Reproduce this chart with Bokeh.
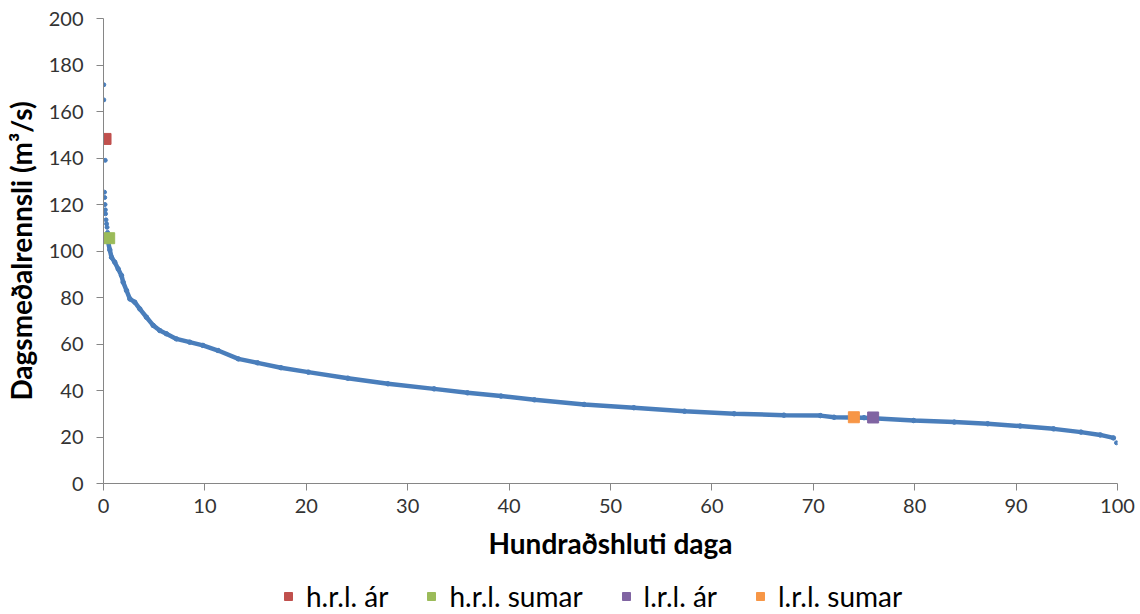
from bokeh.plotting import figure
from bokeh.layouts import column
from bokeh.models import Range1d, FixedTicker, Legend, LegendItem
from bokeh.embed import file_html
from bokeh.resources import INLINE

# sparse top points (percent of days, daily mean flow)
top_pct = [0.03, 0.03, 0.17, 0.10, 0.12, 0.15, 0.18, 0.20, 0.25, 0.30, 0.35, 0.40]
top_flow = [171.5, 165.0, 139.0, 125.3, 123.0, 120.0, 117.7, 116.0, 113.4, 111.7, 110.2, 108.0]

# dense part of the duration curve
curve_pct = [0.45, 0.62, 0.79, 1.11, 1.45, 1.77, 1.94, 2.27, 2.6, 3.08, 3.58, 4.24,
             4.9, 5.55, 6.2, 7.19, 8.5, 9.8, 11.3, 13.3, 15.2, 17.5, 20.2, 24.1,
             28.05, 32.6, 35.9, 39.2, 42.5, 47.4, 52.3, 57.3, 62.2, 67.1, 70.7,
             72.05, 75.0, 79.9, 83.9, 87.2, 90.4, 93.7, 96.4, 98.3, 99.6]
curve_flow = [104.0, 100.5, 97.3, 95.2, 92.3, 89.5, 86.6, 83.0, 79.4, 78.0, 75.1, 71.5,
              68.0, 65.8, 64.4, 62.2, 60.8, 59.4, 57.2, 53.6, 51.9, 49.8, 47.9, 45.3,
              42.9, 40.7, 39.0, 37.6, 36.0, 34.0, 32.6, 31.1, 30.0, 29.4, 29.2,
              28.5, 28.3, 27.1, 26.4, 25.7, 24.7, 23.5, 22.1, 20.9, 19.6]
end_pct = [99.9]
end_flow = [17.5]

# marker series
series_names = ["h.r.l. ár", "h.r.l. sumar", "l.r.l. ár", "l.r.l. sumar"]
series_pct = [0.2, 0.56, 75.9, 74.0]
series_flow = [148.2, 105.5, 28.4, 28.5]
series_colors = ["#C0504D", "#9BBB59", "#8064A2", "#F79646"]

x_ticks = [0, 10, 20, 30, 40, 50, 60, 70, 80, 90, 100]
y_ticks = [0, 20, 40, 60, 80, 100, 120, 140, 160, 180, 200]

BLUE = "#4A7EBB"
FONT = "Lato"
MAIN_H = 567
LEG_H = 614 - MAIN_H

p = figure(width=1140, height=MAIN_H, output_backend="svg", toolbar_location=None,
           x_range=Range1d(0, 100), y_range=Range1d(0, 200),
           min_border_left=102, min_border_right=23, min_border_top=18,
           min_border_bottom=MAIN_H - 483)
p.outline_line_color = None
p.xgrid.visible = False
p.ygrid.visible = False

# curve
p.line(curve_pct, curve_flow, line_color=BLUE, line_width=4.5)
p.scatter(curve_pct, curve_flow, size=4.5, color=BLUE)
p.scatter(top_pct, top_flow, size=4, color=BLUE)
p.scatter(end_pct, end_flow, size=4, color=BLUE)

for xv, yv, c in zip(series_pct, series_flow, series_colors):
    p.scatter([xv], [yv], marker="square", size=11, color=c)

for ax in (p.xaxis[0], p.yaxis[0]):
    ax.axis_line_color = "#868686"
    ax.major_tick_line_color = "#868686"
    ax.minor_tick_line_color = None
    ax.major_tick_in = 0
    ax.major_tick_out = 7
    ax.major_label_text_font = FONT
    ax.major_label_text_font_size = "20px"
    ax.major_label_text_color = "#333333"
    ax.axis_label_text_font = FONT
    ax.axis_label_text_font_style = "bold"
    ax.axis_label_text_font_size = "28px"
    ax.axis_label_text_color = "#000000"

p.xaxis.ticker = FixedTicker(ticks=x_ticks)
p.yaxis.ticker = FixedTicker(ticks=y_ticks)
p.xaxis.axis_label = "Hundraðshluti daga"
p.yaxis.axis_label = "Dagsmeðalrennsli (m³/s)"
p.xaxis.major_label_standoff = 8
p.yaxis.major_label_standoff = 13
p.xaxis.axis_label_standoff = 10
p.yaxis.axis_label_standoff = 8

# legend strip below the chart (its frame is aligned with the chart's frame)
lg = figure(width=1140, height=LEG_H, output_backend="svg", toolbar_location=None,
            x_range=Range1d(0, 100), y_range=Range1d(0, 200),
            x_axis_type=None, y_axis_type=None, min_border=0)
lg.outline_line_color = None
lg.xgrid.visible = False
lg.ygrid.visible = False
items = []
for name, xv, yv, c in zip(series_names, series_pct, series_flow, series_colors):
    r = lg.scatter([xv], [yv], marker="square", size=8, color=c, visible=False)
    items.append(LegendItem(label=name, renderers=[r]))
legend = Legend(items=items, orientation="horizontal", location=(175, 1),
                border_line_color=None, background_fill_alpha=0,
                label_text_font=FONT, label_text_font_size="28px",
                label_text_color="#000000", glyph_width=20, glyph_height=20,
                label_height=20, label_standoff=8, spacing=33, padding=0, margin=0)
lg.add_layout(legend, "center")

layout = column(p, lg, spacing=0)
open("out.html", "w").write(file_html(layout, INLINE))
